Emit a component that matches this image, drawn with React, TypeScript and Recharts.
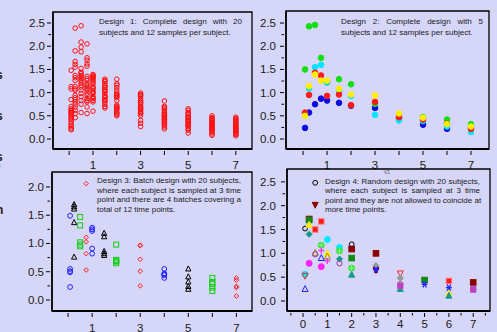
import React from "react";
import { ScatterChart, Scatter, XAxis, YAxis, ReferenceArea } from "recharts";

const BG = "#d6d6f8";
const FONT = '"Liberation Sans", Arial, Helvetica, sans-serif';

// designs 1 and 2 share the 12 sampling times
const sampleTimes = [0.083, 0.25, 0.5, 0.75, 1, 1.5, 2, 3, 4, 5, 6, 7];

// design 1: 20 subjects per sampling time (one row per time)
const design1ByTime = [
  [1.48, 1.13, 1.08, 0.85, 0.7, 0.65, 0.62, 0.6, 0.57, 0.55, 0.52, 0.48, 0.45, 0.42, 0.38, 0.33, 0.29, 0.26, 0.22, 0.2],
  [2.39, 1.9, 1.67, 1.61, 1.55, 1.37, 1.32, 1.26, 1.13, 1.08, 1.05, 0.94, 0.89, 0.85, 0.8, 0.75, 0.69, 0.62, 0.55, 0.46],
  [2.44, 2.09, 1.98, 1.88, 1.52, 1.44, 1.41, 1.37, 1.33, 1.3, 1.26, 1.21, 1.16, 1.12, 1.06, 0.98, 0.91, 0.83, 0.75, 0.57],
  [2.05, 1.75, 1.7, 1.62, 1.57, 1.35, 1.3, 1.26, 1.19, 1.16, 1.12, 1.08, 1.05, 0.99, 0.94, 0.87, 0.83, 0.8, 0.69, 0.55],
  [1.39, 1.37, 1.35, 1.32, 1.3, 1.26, 1.23, 1.19, 1.13, 1.1, 1.08, 1.03, 1.0, 0.98, 0.92, 0.89, 0.87, 0.83, 0.8, 0.6],
  [1.29, 1.26, 1.24, 1.19, 1.15, 1.12, 1.11, 1.06, 1.05, 1.02, 0.98, 0.93, 0.91, 0.89, 0.85, 0.83, 0.8, 0.75, 0.7, 0.67],
  [1.29, 1.19, 1.16, 1.11, 1.05, 0.99, 0.96, 0.94, 0.92, 0.89, 0.83, 0.73, 0.7, 0.68, 0.65, 0.63, 0.58, 0.56, 0.53, 0.5],
  [0.99, 0.96, 0.94, 0.92, 0.87, 0.83, 0.8, 0.78, 0.75, 0.7, 0.68, 0.65, 0.63, 0.6, 0.57, 0.55, 0.51, 0.4, 0.34, 0.27],
  [0.82, 0.7, 0.68, 0.65, 0.62, 0.58, 0.56, 0.53, 0.51, 0.49, 0.46, 0.43, 0.42, 0.4, 0.37, 0.34, 0.33, 0.29, 0.26, 0.22],
  [0.65, 0.62, 0.57, 0.55, 0.53, 0.49, 0.47, 0.46, 0.43, 0.4, 0.39, 0.37, 0.34, 0.32, 0.3, 0.29, 0.26, 0.22, 0.19, 0.13],
  [0.5, 0.46, 0.44, 0.42, 0.4, 0.39, 0.36, 0.34, 0.33, 0.3, 0.29, 0.27, 0.24, 0.23, 0.22, 0.19, 0.17, 0.15, 0.11, 0.08],
  [0.47, 0.44, 0.42, 0.4, 0.37, 0.34, 0.33, 0.3, 0.29, 0.27, 0.24, 0.23, 0.22, 0.19, 0.17, 0.16, 0.13, 0.12, 0.1, 0.07],
];

// design 2: 5 subjects, 12 samples each
const d2Blue = [0.24, 0.57, 0.75, 0.87, 0.83, 0.78, 0.72, 0.67, 0.45, 0.31, 0.22, 0.24];
const d2Green = [1.5, 2.43, 2.46, 1.75, 1.22, 1.29, 1.18, 0.76, 0.5, 0.47, 0.42, 0.32];
const d2Cyan = [0.56, 1.09, 1.55, 1.6, 1.23, 1.03, 0.93, 0.52, 0.4, 0.39, 0.27, 0.15];
const d2Red = [0.57, 0.95, 1.43, 1.37, 0.93, 0.96, 0.73, 0.8, 0.47, 0.42, 0.33, 0.22];
const d2Yellow = [0.5, 1.14, 1.39, 1.26, 1.26, 1.08, 0.96, 0.94, 0.55, 0.46, 0.32, 0.27];

// design 3: 4 batches of 5 subjects, 3 times per batch
const batch1Times = [0.083, 1, 4];
const batch1Values = [[1.49, 0.55, 0.51, 0.49, 0.23], [1.28, 1.25, 1.22, 0.91, 0.82], [0.55, 0.47, 0.45, 0.44, 0.39]];
const batch2Times = [0.25, 1.5, 5];
const batch2Values = [[1.69, 1.65, 1.61, 1.37, 0.76], [1.18, 1.12, 0.86, 0.82, 0.79], [0.55, 0.41, 0.32, 0.24, 0.19]];
const batch3Times = [0.5, 2, 6];
const batch3Values = [[1.47, 1.32, 1.02, 0.98, 0.95], [0.98, 0.71, 0.69, 0.68, 0.65], [0.39, 0.32, 0.28, 0.22, 0.16]];
const batch4Times = [0.75, 3, 7];
const batch4Values = [[2.06, 1.11, 1.03, 0.82, 0.53], [0.97, 0.96, 0.72, 0.51, 0.25], [0.39, 0.35, 0.24, 0.22, 0.07]];

// design 4: random times per subject, [time, value]
const d4Subjects: [number, number][][] = [
  [[0.5, 2.48], [0.083, 1.52], [2, 1.19]],
  [[0.5, 2.02], [3, 0.65]],
  [[0.25, 1.72], [2, 1.09], [3, 1.0], [7, 0.39]],
  [[0.25, 1.7], [2, 0.9], [5, 0.44]],
  [[0.25, 1.6], [1, 1.0], [6, 0.16]],
  [[0.25, 1.4], [1.5, 0.88]],
  [[0.5, 1.5], [0.75, 1.67], [6, 0.42]],
  [[1, 1.29], [1.5, 1.12], [0.083, 0.56]],
  [[0.75, 1.17], [1.5, 1.05], [2, 0.69]],
  [[0.75, 1.06], [1, 0.84]],
  [[0.5, 1.01], [1, 0.93]],
  [[0.5, 0.98], [1.5, 0.79], [4, 0.35]],
  [[0.75, 0.9], [0.083, 0.25]],
  [[0.25, 0.79], [0.75, 0.72]],
  [[0.083, 0.53], [4, 0.58]],
  [[2, 0.55], [4, 0.25], [6, 0.11]],
  [[3, 0.74], [4, 0.48]],
  [[3, 0.66], [5, 0.35], [6, 0.28], [7, 0.25]],
  [[4, 0.32], [7, 0.24]],
];

type Kind = "circle" | "square" | "triangle" | "down" | "diamond" | "plus" | "star" | "circleplus";
interface MStyle { kind: Kind; color: string; filled: boolean; r: number; stroke?: string }

const d4Styles: MStyle[] = [
  { kind: "circle", color: "#000", filled: false, r: 2.4 },
  { kind: "down", color: "#8b0000", filled: true, r: 3 },
  { kind: "square", color: "#8b0000", filled: true, r: 2.8 },
  { kind: "square", color: "#138a13", filled: true, r: 2.8 },
  { kind: "triangle", color: "#ffee00", filled: true, r: 3 },
  { kind: "diamond", color: "#129a8a", filled: true, r: 3 },
  { kind: "square", color: "#ff1a1a", filled: true, r: 2.8, stroke: "#ff8080" },
  { kind: "circle", color: "#00eaff", filled: true, r: 3 },
  { kind: "circleplus", color: "#33e633", filled: true, r: 3 },
  { kind: "plus", color: "#ff33ff", filled: false, r: 3 },
  { kind: "triangle", color: "#9a8a20", filled: false, r: 3 },
  { kind: "circle", color: "#a030a0", filled: false, r: 2.6 },
  { kind: "triangle", color: "#2222ff", filled: false, r: 3 },
  { kind: "circle", color: "#ff22ff", filled: true, r: 3 },
  { kind: "down", color: "#ff2222", filled: false, r: 3 },
  { kind: "triangle", color: "#1a9a8a", filled: true, r: 3 },
  { kind: "diamond", color: "#999999", filled: true, r: 3.2 },
  { kind: "star", color: "#2222ff", filled: false, r: 3 },
  { kind: "square", color: "#c040c0", filled: true, r: 2.6 },
];

function marker(s: MStyle) {
  return (p: any) => {
    const { cx, cy } = p;
    if (cx == null || cy == null) return <g />;
    const r = s.r;
    const fill = s.filled ? s.color : "none";
    const stroke = s.stroke ?? s.color;
    const sw = 1;
    switch (s.kind) {
      case "square":
        return <rect x={cx - r} y={cy - r} width={2 * r} height={2 * r} fill={fill} stroke={stroke} strokeWidth={sw} />;
      case "triangle":
        return <polygon points={`${cx},${cy - r * 1.15} ${cx - r},${cy + r * 0.8} ${cx + r},${cy + r * 0.8}`} fill={fill} stroke={stroke} strokeWidth={sw} />;
      case "down":
        return <polygon points={`${cx},${cy + r * 1.15} ${cx - r},${cy - r * 0.8} ${cx + r},${cy - r * 0.8}`} fill={fill} stroke={stroke} strokeWidth={sw} />;
      case "diamond":
        return <polygon points={`${cx},${cy - r} ${cx + r},${cy} ${cx},${cy + r} ${cx - r},${cy}`} fill={fill} stroke={stroke} strokeWidth={sw} />;
      case "plus":
        return (
          <g stroke={stroke} strokeWidth={1.4}>
            <line x1={cx - r} x2={cx + r} y1={cy} y2={cy} />
            <line x1={cx} x2={cx} y1={cy - r} y2={cy + r} />
          </g>
        );
      case "star":
        return (
          <g stroke={stroke} strokeWidth={1.3}>
            <line x1={cx - r} x2={cx + r} y1={cy} y2={cy} />
            <line x1={cx - r * 0.6} x2={cx + r * 0.6} y1={cy - r} y2={cy + r} />
            <line x1={cx + r * 0.6} x2={cx - r * 0.6} y1={cy - r} y2={cy + r} />
          </g>
        );
      case "circleplus":
        return (
          <g>
            <circle cx={cx} cy={cy} r={r} fill={fill} stroke={stroke} />
            <line x1={cx - r} x2={cx + r} y1={cy} y2={cy} stroke="#b0f0b0" strokeWidth={0.8} />
            <line x1={cx} x2={cx} y1={cy - r} y2={cy + r} stroke="#b0f0b0" strokeWidth={0.8} />
          </g>
        );
      default:
        return <circle cx={cx} cy={cy} r={r} fill={fill} stroke={stroke} strokeWidth={sw} />;
    }
  };
}

const near = (list: number[], v: number) => list.some((m) => Math.abs(m - v) < 1e-6);

interface PanelProps {
  box: { x: number; y: number; w: number; h: number };
  plot: { l: number; t: number; r: number; b: number };
  xDomain: [number, number];
  yDomain: [number, number];
  xTicks: number[];
  xLabels: number[];
  xMajor: number[];
  yTicks: number[];
  yLabels: number[];
  xLabelDy: number;
  yGap: number;
  children: React.ReactNode;
}

function Panel({ box, plot, xDomain, yDomain, xTicks, xLabels, xMajor, yTicks, yLabels, xLabelDy, yGap, children }: PanelProps) {
  const l = plot.l - box.x;
  const t = plot.t - box.y;
  const r = plot.r - box.x;
  const b = plot.b - box.y;

  const xTick = (p: any) => {
    const v = Number(p.payload.value);
    return (
      <g>
        <line x1={p.x} x2={p.x} y1={p.y} y2={p.y + (near(xMajor, v) ? 4 : 2.5)} stroke="#000" />
        {near(xLabels, v) && (
          <text x={p.x} y={p.y + xLabelDy} textAnchor="middle" fontSize={11.5} fontFamily={FONT} fill="#1a1a1a">
            {v}
          </text>
        )}
      </g>
    );
  };

  const yTick = (p: any) => {
    const v = Number(p.payload.value);
    const lab = near(yLabels, v);
    return (
      <g>
        <line x1={p.x - (lab ? 4 : 2.5)} x2={p.x} y1={p.y} y2={p.y} stroke="#000" />
        {lab && (
          <text x={p.x - yGap} y={p.y} textAnchor="end" dominantBaseline="central" fontSize={11.5} fontFamily={FONT} fill="#1a1a1a">
            {v.toFixed(1)}
          </text>
        )}
      </g>
    );
  };

  return (
    <div style={{ position: "absolute", left: box.x, top: box.y }}>
      <ScatterChart width={box.w} height={box.h} margin={{ top: t, right: box.w - r, left: 0, bottom: 0 }}>
        <XAxis
          type="number"
          dataKey="x"
          domain={xDomain}
          ticks={xTicks}
          interval={0}
          allowDataOverflow
          tickSize={0}
          tickLine={false}
          axisLine={{ stroke: "#000", strokeWidth: 2 }}
          height={box.h - b}
          tick={xTick}
        />
        <YAxis
          type="number"
          dataKey="y"
          domain={yDomain}
          ticks={yTicks}
          interval={0}
          allowDataOverflow
          tickSize={0}
          tickLine={false}
          axisLine={{ stroke: "#000", strokeWidth: 1.5 }}
          width={l}
          tick={yTick}
        />
        <ReferenceArea
          x1={xDomain[0]}
          x2={xDomain[1]}
          y1={yDomain[0]}
          y2={yDomain[1]}
          ifOverflow="visible"
          fill="none"
          fillOpacity={0}
          stroke="#000"
          strokeWidth={1.3}
        />
        {children}
      </ScatterChart>
    </div>
  );
}

function Note({ left, top, width, lineHeight, lines, justified }: { left: number; top: number; width: number; lineHeight: number; lines: string[]; justified: number }) {
  return (
    <div style={{ position: "absolute", left, top, width, fontSize: 8, lineHeight: `${lineHeight}px`, color: "#1a1a1a", fontFamily: FONT }}>
      {lines.map((s, i) => (
        <div
          key={i}
          style={{
            whiteSpace: "nowrap",
            height: lineHeight,
            textAlign: i < justified ? "justify" : "left",
            textAlignLast: i < justified ? "justify" : "auto",
          }}
        >
          {s}
        </div>
      ))}
    </div>
  );
}

const yTicks25 = [0, 0.25, 0.5, 0.75, 1, 1.25, 1.5, 1.75, 2, 2.25, 2.5];
const yLabels25 = [0, 0.5, 1, 1.5, 2, 2.5];
const yTicks20 = [0, 0.25, 0.5, 0.75, 1, 1.25, 1.5, 1.75, 2];
const yLabels20 = [0, 0.5, 1, 1.5, 2];
const xInt = [0, 1, 2, 3, 4, 5, 6, 7];
const xOdd = [1, 3, 5, 7];
const xHalf = [-0.5, 0, 0.5, 1, 1.5, 2, 2.5, 3, 3.5, 4, 4.5, 5, 5.5, 6, 6.5, 7, 7.5];

const d1Points = design1ByTime.flatMap((col, i) => col.map((v) => ({ x: sampleTimes[i], y: v })));
const d2Series = [
  { values: d2Blue, color: "#0a0ae6" },
  { values: d2Green, color: "#10e010" },
  { values: d2Cyan, color: "#00e5ff" },
  { values: d2Red, color: "#ff1a1a" },
  { values: d2Yellow, color: "#ffee00" },
];
const toBatch = (times: number[], vals: number[][]) => times.flatMap((tt, i) => vals[i].map((v) => ({ x: tt, y: v })));
const d3Series = [
  { pts: toBatch(batch1Times, batch1Values), style: { kind: "circle", color: "#2020ff", filled: false, r: 2.4 } as MStyle },
  { pts: toBatch(batch2Times, batch2Values), style: { kind: "triangle", color: "#000", filled: false, r: 2.6 } as MStyle },
  { pts: toBatch(batch3Times, batch3Values), style: { kind: "square", color: "#10d010", filled: false, r: 2.5 } as MStyle },
  { pts: toBatch(batch4Times, batch4Values), style: { kind: "diamond", color: "#ff2020", filled: false, r: 2.3 } as MStyle },
];

// clipped letters of the surrounding page text at the left edge
const edgeLetters = [
  { s: "l", y: 8 },
  { s: "s", y: 70 },
  { s: "s", y: 111 },
  { s: "s", y: 152 },
  { s: "f", y: 164 },
  { s: "n", y: 205 },
  { s: "l", y: 225 },
];

export default function App() {
  return (
    <div style={{ position: "fixed", left: 0, top: 0, width: 497, height: 332, background: BG, overflow: "hidden", fontFamily: FONT }}>
      {edgeLetters.map((e, i) => (
        <div key={i} style={{ position: "absolute", left: -4, top: e.y, fontSize: 12, fontWeight: 700, color: "#222", lineHeight: "11px", height: 11 }}>
          {e.s}
        </div>
      ))}

      <Panel
        box={{ x: 0, y: 0, w: 258, h: 170 }}
        plot={{ l: 53, t: 12, r: 252, b: 149 }}
        xDomain={[-0.68, 7.68]}
        yDomain={[-0.215, 2.737]}
        xTicks={xInt}
        xLabels={xOdd}
        xMajor={xInt}
        yTicks={yTicks25}
        yLabels={yLabels25}
        xLabelDy={18}
        yGap={6}
      >
        <Scatter data={d1Points} shape={marker({ kind: "circle", color: "#ff1010", filled: false, r: 2.3 })} isAnimationActive={false} />
      </Panel>

      <Panel
        box={{ x: 255, y: 0, w: 242, h: 170 }}
        plot={{ l: 286, t: 11, r: 489, b: 149 }}
        xDomain={[-0.71, 7.75]}
        yDomain={[-0.215, 2.76]}
        xTicks={xInt}
        xLabels={xOdd}
        xMajor={xInt}
        yTicks={yTicks25}
        yLabels={yLabels25}
        xLabelDy={18}
        yGap={8}
      >
        {d2Series.map((s, i) => (
          <Scatter
            key={i}
            data={s.values.map((v, j) => ({ x: sampleTimes[j], y: v }))}
            shape={marker({ kind: "circle", color: s.color, filled: true, r: 2.8 })}
            isAnimationActive={false}
          />
        ))}
      </Panel>

      <Panel
        box={{ x: 0, y: 165, w: 258, h: 167 }}
        plot={{ l: 52, t: 172, r: 252, b: 311 }}
        xDomain={[-0.67, 7.65]}
        yDomain={[-0.195, 2.265]}
        xTicks={xInt}
        xLabels={xOdd}
        xMajor={xInt}
        yTicks={yTicks20}
        yLabels={yLabels20}
        xLabelDy={19}
        yGap={6}
      >
        {d3Series.map((s, i) => (
          <Scatter key={i} data={s.pts} shape={marker(s.style)} isAnimationActive={false} />
        ))}
      </Panel>

      <Panel
        box={{ x: 255, y: 165, w: 242, h: 167 }}
        plot={{ l: 287, t: 169, r: 490, b: 311 }}
        xDomain={[-0.66, 7.69]}
        yDomain={[-0.21, 2.77]}
        xTicks={xHalf}
        xLabels={xInt}
        xMajor={xInt}
        yTicks={yTicks25}
        yLabels={yLabels25}
        xLabelDy={15}
        yGap={9}
      >
        {d4Subjects.map((pts, i) => (
          <Scatter
            key={i}
            data={pts.map(([tt, v]) => ({ x: tt, y: v }))}
            shape={marker(d4Styles[i])}
            isAnimationActive={false}
          />
        ))}
      </Panel>

      <Note left={99} top={16} width={143} lineHeight={11} justified={1} lines={["Design 1: Complete design with 20", "subjects and 12 samples per subject."]} />
      <Note left={341} top={16} width={142} lineHeight={11} justified={1} lines={["Design 2: Complete design with 5", "subjects and 12 samples per subject."]} />
      <Note
        left={97}
        top={176}
        width={144}
        lineHeight={9.5}
        justified={3}
        lines={[
          "Design 3: Batch design with 20 subjects,",
          "where each subject is sampled at 3 time",
          "point and there are 4 batches covering a",
          "total of 12 time points.",
        ]}
      />
      <Note
        left={325}
        top={176.5}
        width={155}
        lineHeight={9.5}
        justified={3}
        lines={[
          "Design 4: Random design with 20 subjects,",
          "where each subject is sampled at 3 time",
          "point and they are not allowed to coincide at",
          "more time points.",
        ]}
      />
      <div style={{ position: "absolute", left: 384, top: 169, fontSize: 5, color: "#555", lineHeight: "6px" }}>V1</div>
    </div>
  );
}
